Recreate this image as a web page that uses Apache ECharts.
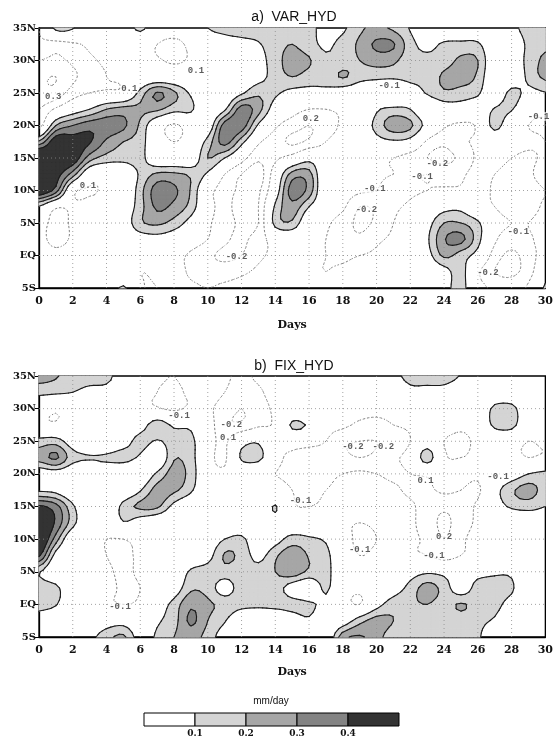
<!DOCTYPE html>
<html><head><meta charset="utf-8">
<script src="https://cdn.jsdelivr.net/npm/echarts@6/dist/echarts.min.js"></script>
<style>html,body{margin:0;padding:0;background:#fff}#c{width:556px;height:740px}</style>
</head><body><div id="c"></div>
<script>
// grid nodes: days (columns) and latitudes (rows, north to south)
const days = [0,1,2,3,4,5,6,7,8,9,10,11,12,13,14,15,16,17,18,19,20,21,22,23,24,25,26,27,28,29,30];
const lats = [35,32.5,30,27.5,25,22.5,20,17.5,15,12.5,10,7.5,5,2.5,0,-2.5,-5];
const xTickLabels = ['0','2','4','6','8','10','12','14','16','18','20','22','24','26','28','30'];
const yTickLabels = ['5S','EQ','5N','10N','15N','20N','25N','30N','35N'];
const xGridDays = [2,4,6,8,10,12,14,16,18,20,22,24,26,28];
const yGridLats = [0,5,10,15,20,25,30];

// a) VAR_HYD, values in 0.01 mm/day, one row per latitude (35N ... 5S)
const varHyd = [
 [-10,13,11,-6,-5,0,13,-2,-6,-3,10,14,15,15,16,16,14,5,8,18,22,18,9,-2,-3,-3,-2,-5,5,16,17],
 [-12,-15,-12,-8,-5,-2,-4,-10,-12,-8,-2,3,6,9,16,20,14,8,14,22,32,31,14,6,12,13,12,-3,-2,13,18],
 [-20,-22,-18,-12,-8,-5,-6,-9,-11,-9,-5,-2,0,5,16,24,21,12,15,20,24,22,14,13,15,22,20,-2,-1,14,22],
 [-28,-30,-22,-15,-10,-8,-4,-2,-3,-5,-4,-2,0,5,15,20,16,14,21,14,13,13,14,13,22,24,18,-4,-3,13,22],
 [-28,-26,-15,-10,-8,-6,14,31,22,8,-3,-2,8,18,12,6,5,6,2,0,-3,-10,3,11,18,16,12,-2,14,6,9],
 [-20,-8,2,10,20,24,22,22,14,12,-2,8,35,24,3,-5,-10,-10,-8,-8,8,13,10,-2,2,3,0,11,11,-5,-8],
 [-15,20,30,36,36,32,18,-2,-12,-3,0,35,36,8,-8,-15,-20,-15,-8,-2,14,25,22,5,-8,-12,-8,14,-2,-10,-10],
 [22,48,45,41,28,20,15,-3,-10,-4,14,34,14,-8,-15,-22,-18,-10,-5,-3,5,8,5,-12,-18,-12,-8,-3,-5,-8,-10],
 [60,50,48,25,16,14,14,-2,-3,-2,20,10,-5,-18,-12,-5,5,-3,-2,-2,-5,-10,-15,-20,-22,-18,-8,-5,-10,-12,-8],
 [52,45,25,-2,-5,-3,12,22,22,18,8,-10,-20,-25,-3,24,24,-5,-3,-3,-8,-10,-12,-10,-15,-12,-6,-10,-15,-12,-5],
 [50,35,-6,-11,-8,-5,16,35,32,19,-5,-15,-22,-22,2,35,26,-5,-5,-8,-10,-15,-12,-10,-8,-8,-5,-12,-18,-15,-10],
 [9,-8,-8,-6,-4,0,16,32,27,16,-5,-15,-25,-20,12,26,10,-3,-8,-20,-18,-12,-8,-2,5,6,-5,-10,-15,-15,-8],
 [-3,-15,-8,-5,-2,2,18,22,16,5,-8,-15,-22,-20,14,18,-3,-8,-15,-22,-18,-10,-5,5,20,20,12,-5,-10,-10,-5],
 [-5,-15,-8,-4,-3,-1,3,5,2,-3,-10,-18,-22,-15,-5,-2,-6,-10,-15,-18,-12,-8,-3,8,29,33,14,-8,-15,-12,-5],
 [-2,-5,-3,-2,-2,-4,-6,-5,-6,-12,-18,-22,-20,-12,-8,-5,-8,-10,-12,-10,-8,-5,-3,5,22,15,5,-15,-22,-15,-5],
 [-1,-2,-2,-5,-8,-6,-10,-8,-5,-12,-15,-15,-12,-8,-5,-3,-8,-10,-8,-5,-5,-5,-5,-3,5,14,-8,-20,-22,-15,3],
 [0,-2,-3,-4,-3,12,-8,-10,-5,-8,-10,-8,-6,-4,-3,-2,-5,-8,-6,-5,-4,-4,-3,-4,5,14,-5,-12,-15,-8,12]
];

// b) FIX_HYD, values in 0.01 mm/day
const fixHyd = [
 [24,21,15,15,16,-3,-4,-8,-10,-6,-3,-8,-12,-8,-5,-3,-2,-2,-3,-3,-2,5,15,16,15,9,-2,-3,-3,-3,-3],
 [13,12,10,6,3,-3,-6,-10,-12,-8,-5,-10,-15,-12,-5,-4,-3,-3,-4,-5,-5,-3,5,5,5,0,-2,-2,-3,-4,-4],
 [-3,-8,-4,-2,-2,-3,-6,-9,-12,-8,-8,-15,-20,-15,-8,-5,-8,-10,-8,-6,-5,-5,-3,-2,-2,-4,-3,13,14,-2,-3],
 [-8,-8,-4,-2,-4,-2,4,16,8,7,-4,-18,-18,-12,-8,12,8,-6,-8,-12,-15,-10,-8,-5,-5,-8,-5,13,14,-3,-3],
 [14,15,3,-2,-4,4,14,9,14,13,-4,-12,4,8,-8,-5,-6,-10,-18,-20,-20,-18,-10,2,-10,-12,-8,-5,-5,-10,-8],
 [24,32,14,11,12,14,8,-3,19,14,-5,-12,12,14,-6,-12,-15,-15,-18,-20,-18,-12,-5,16,-8,-10,-8,-5,-6,-10,-8],
 [2,4,-1,-2,-1,-3,-2,12,24,16,-5,-8,-5,-8,-10,-12,-15,-12,-10,-8,-10,-12,-10,-8,-5,-6,-8,-3,2,10,13],
 [8,6,-3,-3,-2,-2,9,24,22,12,-4,-6,-5,-5,-5,-10,-12,-10,-8,-5,-6,-8,-12,-12,-8,-10,-12,5,18,24,16],
 [42,34,12,-3,-5,14,22,22,6,-3,-5,-5,-3,-3,11,-8,-10,-8,-5,-3,-3,-5,-8,-15,-18,-15,-8,3,12,14,10],
 [55,38,14,-3,-5,9,2,-3,-5,-8,-3,-5,-3,-1,5,-1,-3,-3,-8,-10,-8,-5,-8,-15,-22,-15,-8,-3,-5,-3,2],
 [55,25,-3,-6,-10,-10,-6,-3,-2,-2,0,10,13,-2,5,14,12,8,-5,-12,-10,-5,-8,-12,-20,-12,-6,-3,-5,-5,-3],
 [42,5,-5,-6,-10,-12,-8,-4,-1,-1,5,21,17,6,18,27,19,14,-5,-10,-8,-5,-8,-10,-15,-10,-6,-3,-4,-5,-3],
 [11,-3,-3,-5,-8,-12,-8,-4,-2,12,15,16,15,14,20,26,18,15,-4,-8,-6,-3,4,8,6,2,5,8,7,-5,-3],
 [16,13,-3,-5,-6,-12,-10,-5,2,18,16,4,16,15,15,4,-2,12,-5,-8,-4,3,14,24,16,2,15,14,12,-5,-3],
 [15,11,-3,-4,-8,-10,-8,2,14,28,22,17,14,13,14,14,12,6,-5,-10,5,16,18,20,16,21,16,14,4,-5,-3],
 [2,-3,-4,-2,3,4,-2,8,16,32,20,11,-2,-4,-3,3,8,-2,2,16,24,20,12,14,12,15,13,8,-4,-6,-4],
 [-2,-3,-4,6,16,22,4,12,20,24,16,3,-3,-5,-3,-3,-4,-3,26,31,24,14,14,13,12,12,12,-3,-5,-4,-2]
];

// contour levels (mm/day)
const shadeLevels = [0.1, 0.2, 0.3, 0.4];
const dashLevels = [-0.1, -0.2, -0.3];
const shadeColors = ['#d4d4d4', '#a6a6a6', '#838383', '#333333'];

// colour bar
const barEdges = [0, 0.1, 0.2, 0.3, 0.4, 0.5];
const barColors = ['#ffffff', '#d4d4d4', '#a6a6a6', '#838383', '#333333'];

// contour labels
const varLabelDay = [0.84, 5.35, 9.3, 2.9, 11.7, 20.75, 16.1, 23.6, 22.7, 19.9, 19.4, 28.4, 26.6, 29.6];
const varLabelLat = [24.4, 25.7, 28.4, 10.8, -0.2, 26.1, 21.1, 14.1, 12.1, 10.2, 7.0, 3.6, -2.6, 21.4];
const varLabelText = ['0.3','0.1','0.1','0.1','-0.2','-0.1','0.2','-0.2','-0.1','-0.1','-0.2','-0.1','-0.2','-0.1'];
const fixLabelDay = [8.3, 11.4, 11.2, 4.8, 18.6, 20.4, 22.9, 27.2, 15.5, 24.0, 23.4, 19.0];
const fixLabelLat = [28.9, 27.5, 25.6, -0.4, 24.2, 24.2, 19.0, 19.5, 15.9, 10.3, 7.5, 8.3];
const fixLabelText = ['-0.1','-0.2','0.1','-0.1','-0.2','-0.2','0.1','-0.1','-0.1','0.2','-0.1','-0.1'];

const TICK_FONT = 'DejaVu Serif';
const SUB = 4; // sub-steps per grid cell used by the smooth contouring

// marching squares on one (sub)cell: v = [BL, BR, TR, TL], p = pixel points
function cellGeom(v, p, t) {
  const ab = v.map(x => x >= t);
  const n = ab.filter(Boolean).length;
  if (n === 0) return null;
  if (n === 4) return { polys: [p.slice()], segs: [] };
  const cross = k => {
    const k2 = (k + 1) % 4;
    const f = (t - v[k]) / (v[k2] - v[k]);
    return [p[k][0] + f * (p[k2][0] - p[k][0]), p[k][1] + f * (p[k2][1] - p[k][1])];
  };
  const polys = [], segs = [];
  const saddle = n === 2 && ab[0] === ab[2];
  if (saddle) {
    const cx = [cross(0), cross(1), cross(2), cross(3)];
    const c = (v[0] + v[1] + v[2] + v[3]) / 4;
    if (c >= t) {
      const poly = [];
      for (let k = 0; k < 4; k++) { if (ab[k]) poly.push(p[k]); poly.push(cx[k]); }
      polys.push(poly);
      for (let k = 0; k < 4; k++) if (!ab[k]) segs.push([cx[(k + 3) % 4], cx[k]]);
    } else {
      for (let k = 0; k < 4; k++) if (ab[k]) {
        polys.push([p[k], cx[k], cx[(k + 3) % 4]]);
        segs.push([cx[(k + 3) % 4], cx[k]]);
      }
    }
    return { polys, segs };
  }
  const poly = [], cr = [];
  for (let k = 0; k < 4; k++) {
    if (ab[k]) poly.push(p[k]);
    if (ab[k] !== ab[(k + 1) % 4]) { const q = cross(k); poly.push(q); cr.push(q); }
  }
  polys.push(poly);
  if (cr.length === 2) segs.push(cr);
  return { polys, segs };
}

// Catmull-Rom reconstruction of the field between grid nodes (rendering only)
function cr1(a, b, c, d, t) {
  return 0.5 * (2 * b + (-a + c) * t + (2 * a - 5 * b + 4 * c - d) * t * t + (-a + 3 * b - 3 * c + d) * t * t * t);
}
function fieldAt(grid, x, y) {
  const nr = grid.length, nc = grid[0].length;
  const ix = Math.min(Math.floor(x), nc - 2), iy = Math.min(Math.floor(y), nr - 2);
  const u = x - ix, w = y - iy;
  const cl = (k, n) => Math.max(0, Math.min(n - 1, k));
  const rowv = r => {
    const R = grid[cl(r, nr)];
    return cr1(R[cl(ix - 1, nc)], R[ix], R[ix + 1], R[cl(ix + 2, nc)], u);
  };
  return cr1(rowv(iy - 1), rowv(iy), rowv(iy + 1), rowv(iy + 2), w) / 100;
}

function subCells(grid, api) {
  const i = api.value(2), j = api.value(3);
  const vals = [], pts = [];
  for (let r = 0; r <= SUB; r++) {           // r = 0 bottom (row j+1) ... SUB top (row j)
    vals.push([]); pts.push([]);
    for (let s = 0; s <= SUB; s++) {
      const fx = i + s / SUB, fy = j + 1 - r / SUB;
      vals[r].push(fieldAt(grid, fx, fy));
      const d = days[i] + (days[i + 1] - days[i]) * s / SUB;
      const la = lats[j + 1] + (lats[j] - lats[j + 1]) * r / SUB;
      pts[r].push(api.coord([d, la]));
    }
  }
  const out = [];
  for (let r = 0; r < SUB; r++) for (let s = 0; s < SUB; s++) {
    out.push({
      v: [vals[r][s], vals[r][s + 1], vals[r + 1][s + 1], vals[r + 1][s]],
      p: [pts[r][s], pts[r][s + 1], pts[r + 1][s + 1], pts[r + 1][s]]
    });
  }
  return out;
}

// one series per shading level so that each level is painted over the previous one
function fillRender(grid, k) {
  const t = shadeLevels[k], col = shadeColors[k];
  return function (params, api) {
    const children = [];
    subCells(grid, api).forEach(c => {
      const g = cellGeom(c.v, c.p, t);
      if (!g) return;
      g.polys.forEach(poly => children.push({
        type: 'polygon', shape: { points: poly },
        style: { fill: col, stroke: col, lineWidth: 1, lineJoin: 'round' }
      }));
    });
    return { type: 'group', children };
  };
}

function lineRender(grid) {
  return function (params, api) {
    const children = [];
    subCells(grid, api).forEach(c => {
      shadeLevels.forEach(t => {
        const g = cellGeom(c.v, c.p, t);
        if (!g) return;
        g.segs.forEach(sg => children.push({
          type: 'line', shape: { x1: sg[0][0], y1: sg[0][1], x2: sg[1][0], y2: sg[1][1] },
          style: { stroke: '#1a1a1a', lineWidth: 1.1, lineCap: 'round' }
        }));
      });
      dashLevels.forEach(t => {
        const g = cellGeom(c.v, c.p, t);
        if (!g) return;
        g.segs.forEach(sg => children.push({
          type: 'line', shape: { x1: sg[0][0], y1: sg[0][1], x2: sg[1][0], y2: sg[1][1] },
          style: { stroke: '#707070', lineWidth: 0.9, lineDash: [1.2, 1.8] }
        }));
      });
    });
    return { type: 'group', children };
  };
}

const cells = [];
for (let j = 0; j < lats.length - 1; j++)
  for (let i = 0; i < days.length - 1; i++)
    cells.push([days[i], lats[j + 1], i, j]);

function latLabel(v) {
  const idx = Math.round((v + 5) / 5);
  return yTickLabels[idx] !== undefined ? yTickLabels[idx] : '';
}
function dayLabel(v) {
  const idx = Math.round(v / 2);
  return xTickLabels[idx] !== undefined ? xTickLabels[idx] : '';
}

function xAxisFor(gi, gap) {
  return {
    gridIndex: gi, type: 'value', min: 0, max: 30, interval: 2,
    axisLine: { show: true, onZero: false, lineStyle: { color: '#000', width: 1.3 } },
    axisTick: { show: false },
    axisLabel: { formatter: dayLabel, fontFamily: TICK_FONT, fontWeight: 'bold', fontSize: 11, color: '#111', margin: 8 },
    splitLine: { show: false },
    name: 'Days', nameLocation: 'middle', nameGap: gap,
    nameTextStyle: { fontFamily: TICK_FONT, fontWeight: 'bold', fontSize: 11, color: '#111' }
  };
}
function yAxisFor(gi) {
  return {
    gridIndex: gi, type: 'value', min: -5, max: 35, interval: 5,
    axisLine: { show: true, onZero: false, lineStyle: { color: '#000', width: 1.3 } },
    axisTick: { show: true, length: 4, lineStyle: { color: '#000' } },
    axisLabel: { formatter: latLabel, fontFamily: TICK_FONT, fontWeight: 'bold', fontSize: 10, color: '#111', margin: 3 },
    splitLine: { show: false }
  };
}

function labelSeries(gi, dayArr, latArr, textArr) {
  return {
    type: 'scatter', xAxisIndex: gi, yAxisIndex: gi, symbolSize: 0, z: 10, silent: true,
    data: dayArr.map((d, k) => [d, latArr[k], textArr[k]]),
    label: {
      show: true, position: 'inside', formatter: p => p.value[2],
      fontFamily: 'Liberation Mono', fontWeight: 'bold', fontSize: 9, color: '#333',
      backgroundColor: 'rgba(255,255,255,0.85)', padding: [0, 1]
    }
  };
}

// dotted reference grid drawn over the shading (as in the original figure)
function gridLineSeries(gi) {
  const gridStyle = { stroke: '#8c8c8c', lineWidth: 0.8, lineDash: [1, 3] };
  const dMin = days[0], dMax = days[days.length - 1], lMin = lats[lats.length - 1], lMax = lats[0];
  return [
    { type: 'custom', xAxisIndex: gi, yAxisIndex: gi, encode: { x: 0, y: 1 }, z: 6, silent: true,
      data: xGridDays.map(d => [d, lMin]),
      renderItem: (params, api) => {
        const a = api.coord([api.value(0), lMin]), b = api.coord([api.value(0), lMax]);
        return { type: 'line', shape: { x1: a[0], y1: a[1], x2: b[0], y2: b[1] }, style: gridStyle };
      } },
    { type: 'custom', xAxisIndex: gi, yAxisIndex: gi, encode: { x: 0, y: 1 }, z: 6, silent: true,
      data: yGridLats.map(l => [dMin, l]),
      renderItem: (params, api) => {
        const a = api.coord([dMin, api.value(1)]), b = api.coord([dMax, api.value(1)]);
        return { type: 'line', shape: { x1: a[0], y1: a[1], x2: b[0], y2: b[1] }, style: gridStyle };
      } }
  ];
}

function panelSeries(gi, grid) {
  const out = shadeLevels.map((t, k) => ({
    type: 'custom', xAxisIndex: gi, yAxisIndex: gi, dimensions: ['day','lat','i','j'], encode: { x: 0, y: 1 },
    data: cells, renderItem: fillRender(grid, k), z: 2 + k, silent: true
  }));
  out.push.apply(out, gridLineSeries(gi));
  out.push({
    type: 'custom', xAxisIndex: gi, yAxisIndex: gi, dimensions: ['day','lat','i','j'], encode: { x: 0, y: 1 },
    data: cells, renderItem: lineRender(grid), z: 7, silent: true
  });
  return out;
}

const chart = echarts.init(document.getElementById('c'), null, { renderer: 'canvas' });
chart.setOption({
  animation: false,
  backgroundColor: '#fff',
  grid: [
    { left: 39, top: 28, width: 510, height: 260, show: true, borderColor: '#000', borderWidth: 1.3 },
    { left: 39, top: 376, width: 510, height: 261, show: true, borderColor: '#000', borderWidth: 1.3 },
    { left: 144, top: 713, width: 255, height: 13 }
  ],
  xAxis: [
    xAxisFor(0, 32), xAxisFor(1, 30),
    { gridIndex: 2, type: 'value', min: 0, max: 0.5, interval: 0.1,
      axisLine: { show: false }, axisTick: { show: false }, splitLine: { show: false },
      axisLabel: { formatter: v => (v > 0.05 && v < 0.45) ? v.toFixed(1) : '', fontFamily: TICK_FONT, fontWeight: 'bold', fontSize: 9, color: '#111', margin: 3 } }
  ],
  yAxis: [ yAxisFor(0), yAxisFor(1), { gridIndex: 2, type: 'value', min: 0, max: 1, show: false } ],
  graphic: [
    { type: 'text', x: 294, y: 17, style: { text: 'a)  VAR_HYD', font: '14px "Liberation Sans"', fill: '#111', textAlign: 'center', textVerticalAlign: 'middle' } },
    { type: 'text', x: 294, y: 366, style: { text: 'b)  FIX_HYD', font: '14px "Liberation Sans"', fill: '#111', textAlign: 'center', textVerticalAlign: 'middle' } },
    { type: 'text', x: 271, y: 701, style: { text: 'mm/day', font: '10px "Liberation Sans"', fill: '#111', textAlign: 'center', textVerticalAlign: 'middle' } }
  ],
  series: [].concat(
    panelSeries(0, varHyd),
    panelSeries(1, fixHyd),
    [
      labelSeries(0, varLabelDay, varLabelLat, varLabelText),
      labelSeries(1, fixLabelDay, fixLabelLat, fixLabelText),
      { type: 'custom', xAxisIndex: 2, yAxisIndex: 2, dimensions: ['lo','hi','k','y'], encode: { x: [0, 1], y: 3 },
        data: barColors.map((c, k) => [barEdges[k], barEdges[k + 1], k, 0.5]), silent: true,
        renderItem: function (params, api) {
          const p0 = api.coord([api.value(0), 1]);
          const p1 = api.coord([api.value(1), 0]);
          return { type: 'rect', shape: { x: p0[0], y: p0[1], width: p1[0] - p0[0], height: p1[1] - p0[1] },
            style: { fill: barColors[api.value(2)], stroke: '#000', lineWidth: 1 } };
        } }
    ]
  )
});
</script>
</body></html>
